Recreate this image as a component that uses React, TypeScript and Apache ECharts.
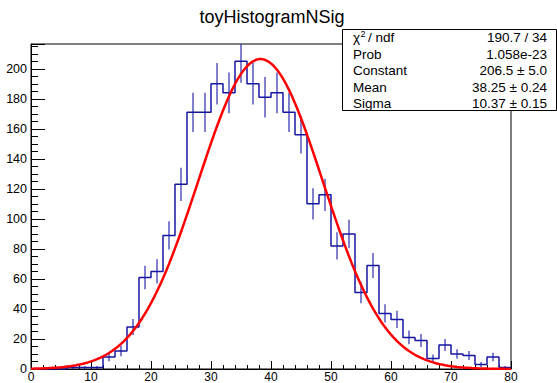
import React, { useEffect, useRef } from "react";
import * as echarts from "echarts";

const chartTitle = "toyHistogramNSig";
const binWidth = 2;
const counts = [
  0, 0, 0, 1, 1, 1, 8, 12, 28, 61,
  65, 89, 123, 171, 171, 190, 184, 205, 190, 181,
  184, 171, 156, 110, 116, 82, 90, 51, 69, 37,
  33, 21, 19, 7, 16, 10, 9, 3, 8, 1,
];
const fitConstant = 206.5;
const fitMean = 38.25;
const fitSigma = 10.37;
const statNames = ["", "Prob", "Constant", "Mean", "Sigma"];
const statValues = ["190.7 / 34", "1.058e-23", "206.5 \u00b1 5.0", "38.25 \u00b1 0.24", "10.37 \u00b1 0.15"];
const xMin = 0;
const xMax = 80;
const yMax = 216.5;

const FONT = "'Liberation Sans', Arial, Helvetica, sans-serif";

export default function App() {
  const ref = useRef<HTMLDivElement>(null);
  useEffect(() => {
    if (!ref.current) return;
    const chart = echarts.init(ref.current, undefined, { renderer: "svg" });

    const stepData: number[][] = counts.map((v, i) => [xMin + i * binWidth, v]);
    stepData.push([xMin + counts.length * binWidth, counts[counts.length - 1]]);
    const errData: number[][] = counts.map((v, i) => [xMin + i * binWidth + binWidth / 2, v]);
    const fitData: number[][] = [];
    for (let x = xMin; x <= xMax + 1e-9; x += 0.5) {
      fitData.push([x, fitConstant * Math.exp(-0.5 * Math.pow((x - fitMean) / fitSigma, 2))]);
    }

    const boxX = 342.5, boxY = 29.5, boxW = 214, boxH = 81;
    const rowY = [37.5, 54, 70.5, 87, 103.5];
    const txt = (x: number, y: number, text: string, align: string, size = 13.5) => ({
      type: "text",
      x,
      y,
      z: 101,
      style: { text, fill: "#000", font: `${size}px ${FONT}`, align, verticalAlign: "middle" },
    });
    const statGraphics: any[] = [
      {
        type: "rect",
        z: 100,
        shape: { x: boxX, y: boxY, width: boxW, height: boxH },
        style: { fill: "#fff", stroke: "#000", lineWidth: 1 },
      },
      txt(353, rowY[0], "\u03c7", "left"),
      txt(360.5, rowY[0] - 4, "2", "left", 9),
      txt(368, rowY[0], "/ ndf", "left"),
    ];
    statNames.forEach((n, i) => {
      if (n) statGraphics.push(txt(353, rowY[i], n, "left"));
      statGraphics.push(txt(547, rowY[i], statValues[i], "right"));
    });

    const option: any = {
      animation: false,
      backgroundColor: "#fff",
      grid: { left: 31, right: 46, top: 44, bottom: 14, show: true, borderColor: "#000", borderWidth: 1, outerBoundsMode: "none", containLabel: false },
      xAxis: {
        type: "value",
        min: xMin,
        max: xMax,
        interval: 10,
        axisLine: { show: true, onZero: false, lineStyle: { color: "#000", width: 1 } },
        axisTick: { show: true, inside: true, length: 8, lineStyle: { color: "#000" } },
        minorTick: { show: true, splitNumber: 5, length: 4, lineStyle: { color: "#000" } },
        axisLabel: { color: "#000", fontSize: 12, lineHeight: 11, fontFamily: FONT, margin: 2 },
        splitLine: { show: false },
      },
      yAxis: {
        type: "value",
        min: 0,
        max: yMax,
        interval: 20,
        axisLine: { show: true, onZero: false, lineStyle: { color: "#000", width: 1 } },
        axisTick: { show: true, inside: true, length: 14, lineStyle: { color: "#000" } },
        minorTick: { show: true, splitNumber: 4, length: 7, lineStyle: { color: "#000" } },
        axisLabel: { color: "#000", fontSize: 12.5, fontFamily: FONT, margin: 4, showMaxLabel: false },
        splitLine: { show: false },
      },
      graphic: [
        {
          type: "text",
          x: 272,
          y: 17,
          style: { text: chartTitle, fill: "#000", font: `18px ${FONT}`, align: "center", verticalAlign: "middle" },
        },
        ...statGraphics,
      ],
      series: [
        {
          type: "line",
          data: stepData,
          step: "end",
          symbol: "none",
          clip: true,
          z: 3,
          lineStyle: { color: "#1616a0", width: 1.5 },
        },
        {
          type: "custom",
          data: errData,
          clip: true,
          z: 3,
          encode: { x: 0, y: 1 },
          renderItem: (params: any, api: any) => {
            const x = api.value(0);
            const v = api.value(1);
            if (v <= 0) return null;
            const e = Math.sqrt(v);
            const p1 = api.coord([x, v - e]);
            const p2 = api.coord([x, v + e]);
            return {
              type: "line",
              shape: { x1: p1[0], y1: p1[1], x2: p2[0], y2: p2[1] },
              style: { stroke: "rgba(30,30,170,0.75)", lineWidth: 1.5 },
            };
          },
        },
        {
          type: "line",
          data: fitData,
          symbol: "none",
          clip: true,
          z: 4,
          lineStyle: { color: "#ff0000", width: 2.5 },
        },
      ],
    };
    chart.setOption(option);
    return () => chart.dispose();
  }, []);
  return (
    <div
      ref={ref}
      style={{ position: "absolute", left: 0, top: 0, width: 557, height: 383, background: "#fff" }}
    />
  );
}
